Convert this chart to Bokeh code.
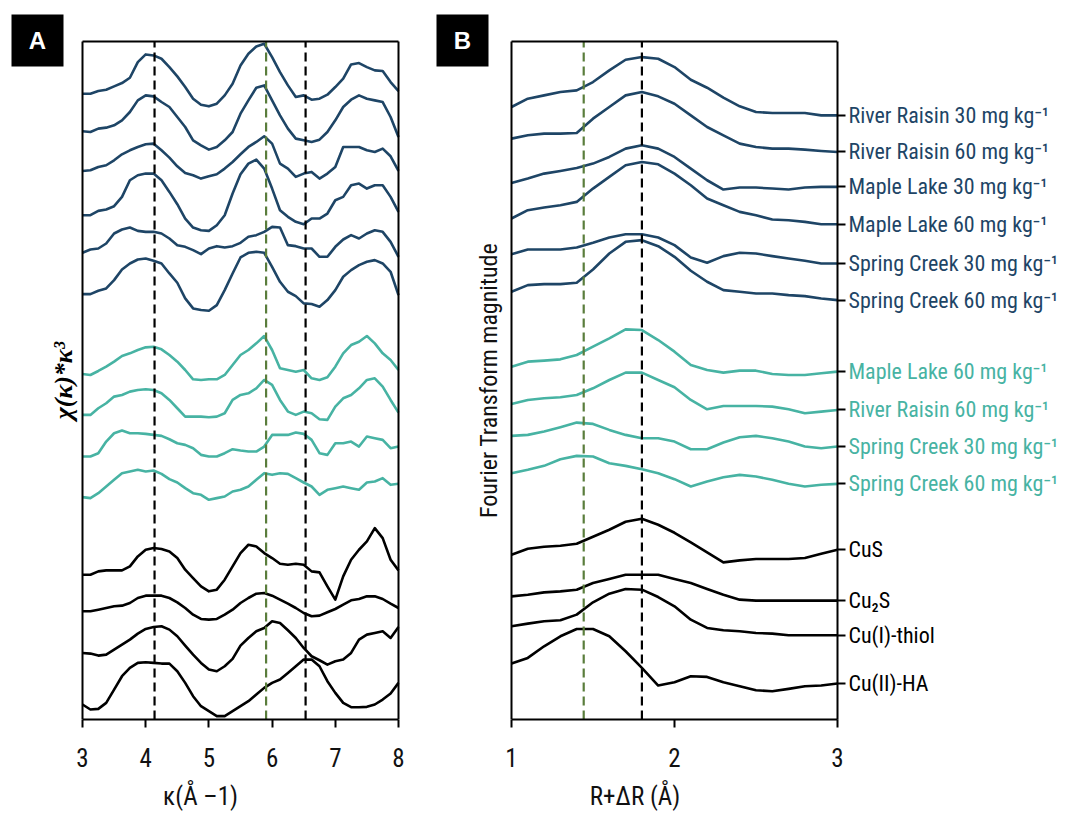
import math
from bokeh.plotting import figure
from bokeh.models import Range1d, ColumnDataSource, LinearAxis, FixedTicker, CustomJSTickFormatter
from bokeh.core.properties import value
from bokeh.layouts import row
from bokeh.embed import file_html
from bokeh.resources import INLINE

FONT = "Roboto Condensed"
DARK = "#1e4566"
TEAL = "#47b3a3"
GREEN = "#5a7d3c"

# ---------------- Panel A : k^3-weighted EXAFS (stacked, arbitrary units) ----------------
kappa = [3.0, 3.125, 3.25, 3.375, 3.5, 3.625, 3.75, 3.875, 4.0, 4.125, 4.25, 4.375, 4.5, 4.625,
         4.75, 4.875, 5.0, 5.125, 5.25, 5.375, 5.5, 5.625, 5.75, 5.875, 6.0, 6.125, 6.25, 6.375,
         6.5, 6.625, 6.75, 6.875, 7.0, 7.125, 7.25, 7.375, 7.5, 7.625, 7.75, 7.875, 8.0]

# readings: larger value = lower trace position (1 unit = 1/30 of a stack unit)
a_rr30 = [280, 280, 272, 268, 258, 248, 232, 185, 162, 165, 175, 200, 228, 260, 295, 313, 318, 310, 285, 250, 195,
          160, 138, 130, 170, 215, 255, 290, 285, 298, 295, 283, 260, 235, 192, 188, 200, 210, 212, 245, 272]
a_rr60 = [393, 395, 385, 382, 375, 360, 335, 300, 285, 288, 305, 320, 350, 380, 420, 435, 448, 440, 420, 395, 340,
          300, 262, 255, 300, 345, 385, 415, 420, 425, 418, 395, 360, 320, 298, 285, 295, 300, 305, 350, 410]
a_ml30 = [512, 510, 500, 495, 480, 462, 450, 440, 432, 430, 450, 472, 498, 518, 525, 535, 528, 522, 505, 485, 462,
          440, 425, 408, 430, 490, 505, 530, 520, 515, 535, 520, 500, 440, 440, 440, 450, 455, 445, 468, 512]
a_ml60 = [645, 645, 632, 628, 618, 590, 540, 525, 520, 520, 540, 575, 612, 655, 682, 690, 692, 675, 645, 580, 522,
          490, 478, 505, 565, 630, 650, 665, 672, 655, 655, 640, 600, 590, 555, 550, 565, 555, 555, 590, 635]
a_sc30 = [758, 748, 745, 730, 700, 688, 682, 692, 695, 695, 700, 715, 735, 740, 750, 762, 745, 738, 742, 738, 728,
          710, 705, 695, 680, 682, 735, 738, 745, 745, 770, 770, 740, 718, 705, 715, 700, 690, 695, 725, 770]
a_sc60 = [882, 882, 872, 865, 840, 808, 790, 778, 775, 782, 790, 820, 848, 895, 925, 930, 932, 915, 870, 820, 772,
          758, 755, 758, 800, 845, 875, 888, 910, 912, 920, 900, 870, 830, 810, 795, 785, 780, 790, 815, 885]
a_t_ml60 = [222, 225, 213, 200, 185, 168, 160, 150, 142, 140, 148, 165, 185, 210, 238, 240, 238, 238, 225, 195, 165,
            150, 130, 108, 150, 205, 210, 215, 210, 235, 240, 232, 200, 160, 135, 125, 108, 130, 160, 180, 210]
a_t_rr60 = [345, 345, 325, 310, 290, 285, 275, 270, 268, 270, 280, 300, 325, 350, 350, 350, 352, 350, 340, 300, 285,
            280, 265, 240, 255, 300, 335, 345, 335, 340, 358, 360, 320, 295, 285, 265, 240, 235, 260, 300, 338]
a_t_sc30 = [470, 470, 460, 425, 400, 392, 400, 400, 402, 405, 408, 418, 430, 435, 445, 465, 470, 470, 460, 448, 452,
            455, 455, 440, 405, 405, 405, 398, 402, 420, 460, 465, 430, 430, 425, 440, 410, 415, 420, 445, 440]
a_t_sc60 = [592, 595, 580, 560, 540, 520, 515, 510, 515, 512, 522, 538, 548, 565, 580, 585, 600, 595, 590, 575, 570,
            560, 540, 520, 525, 520, 522, 535, 548, 560, 585, 570, 565, 560, 565, 570, 548, 545, 535, 555, 552]
a_cus = [105, 105, 95, 92, 92, 92, 80, 50, 30, 25, 28, 35, 55, 90, 115, 140, 155, 150, 120, 80, 40,
         15, 20, 40, 55, 72, 75, 72, 75, 95, 98, 140, 180, 110, 60, 30, 5, -35, -5, 60, 92]
a_cu2s = [215, 215, 210, 205, 200, 198, 190, 175, 168, 168, 168, 175, 188, 205, 225, 238, 240, 238, 225, 210, 190,
          175, 162, 160, 168, 180, 192, 205, 220, 230, 228, 218, 208, 195, 182, 178, 170, 170, 178, 192, 205]
a_thiol = [340, 342, 348, 345, 330, 315, 300, 282, 268, 262, 260, 270, 290, 318, 345, 370, 390, 395, 380, 358, 318,
           295, 275, 265, 245, 250, 272, 295, 325, 350, 362, 375, 365, 360, 340, 300, 285, 280, 275, 295, 262]
a_ha = [495, 510, 508, 490, 450, 410, 385, 370, 368, 370, 372, 372, 395, 430, 470, 500, 515, 530, 530, 515, 500,
        485, 465, 445, 430, 420, 400, 380, 360, 360, 380, 425, 460, 490, 503, 503, 502, 495, 480, 462, 430]

# ---------------- Panel B : Fourier transform magnitude ----------------
rdist = [1.0, 1.1, 1.2, 1.3, 1.4, 1.5, 1.6, 1.7, 1.8, 1.9, 2.0, 2.1, 2.2, 2.3, 2.4, 2.5, 2.6, 2.7, 2.8, 2.9, 3.0]

b_rr30 = [320, 295, 285, 275, 270, 245, 210, 178, 170, 175, 200, 238, 262, 292, 318, 335, 338, 338, 338, 345, 345]
b_rr60 = [415, 405, 400, 400, 398, 355, 320, 285, 275, 288, 310, 345, 380, 405, 430, 440, 445, 445, 448, 452, 455]
b_ml30 = [548, 535, 520, 512, 503, 490, 470, 445, 435, 445, 470, 505, 540, 568, 562, 562, 565, 568, 562, 560, 560]
b_ml60 = [655, 630, 622, 615, 605, 565, 530, 495, 485, 492, 520, 555, 595, 615, 635, 645, 658, 660, 665, 672, 672]
b_sc30 = [762, 748, 748, 748, 742, 728, 712, 702, 702, 712, 735, 772, 788, 768, 758, 760, 768, 775, 782, 790, 790]
b_sc60 = [875, 855, 852, 852, 848, 808, 760, 725, 720, 738, 770, 812, 845, 870, 875, 880, 880, 885, 888, 895, 900]
b_t_ml60 = [200, 185, 182, 178, 165, 140, 115, 88, 90, 120, 155, 195, 210, 218, 212, 212, 222, 225, 225, 220, 215]
b_t_rr60 = [312, 300, 295, 292, 285, 265, 240, 218, 218, 240, 262, 300, 328, 318, 318, 318, 320, 328, 340, 335, 330]
b_t_sc30 = [408, 405, 395, 382, 368, 372, 390, 405, 415, 415, 425, 448, 448, 428, 412, 408, 415, 425, 440, 445, 440]
b_t_sc60 = [520, 510, 498, 478, 468, 470, 490, 498, 508, 520, 538, 560, 545, 532, 525, 530, 540, 552, 560, 555, 552]
b_cus = [45, 27, 21, 18, 12, -9, -30, -54, -63, -45, -21, 8, 38, 68, 62, 58, 58, 58, 55, 42, 30]
b_cu2s = [170, 165, 158, 155, 150, 130, 118, 105, 105, 105, 118, 130, 148, 165, 180, 183, 183, 183, 183, 183, 183]
b_thiol = [260, 252, 245, 242, 225, 188, 162, 148, 150, 172, 200, 240, 265, 272, 275, 280, 282, 287, 287, 287, 287]
b_ha = [372, 355, 320, 290, 268, 268, 290, 335, 385, 438, 428, 410, 412, 428, 440, 452, 455, 448, 440, 438, 432]

labels = ["River Raisin 30 mg kg\u207b\u00b9", "River Raisin 60 mg kg\u207b\u00b9",
          "Maple Lake 30 mg kg\u207b\u00b9", "Maple Lake 60 mg kg\u207b\u00b9",
          "Spring Creek 30 mg kg\u207b\u00b9", "Spring Creek 60 mg kg\u207b\u00b9",
          "Maple Lake 60 mg kg\u207b\u00b9", "River Raisin 60 mg kg\u207b\u00b9",
          "Spring Creek 30 mg kg\u207b\u00b9", "Spring Creek 60 mg kg\u207b\u00b9",
          "CuS", "Cu\u2082S", "Cu(I)-thiol", "Cu(II)-HA"]
groups = ["dark"] * 6 + ["teal"] * 4 + ["black"] * 4
group_color = {"dark": DARK, "teal": TEAL, "black": "black"}
group_offset = {"dark": 72.0, "teal": 42.0, "black": 18.0}   # stacking offsets
SCALE = 30.0

curves_A = [a_rr30, a_rr60, a_ml30, a_ml60, a_sc30, a_sc60, a_t_ml60, a_t_rr60, a_t_sc30, a_t_sc60,
            a_cus, a_cu2s, a_thiol, a_ha]
curves_B = [b_rr30, b_rr60, b_ml30, b_ml60, b_sc30, b_sc60, b_t_ml60, b_t_rr60, b_t_sc30, b_t_sc60,
            b_cus, b_cu2s, b_thiol, b_ha]

dashes_A = [(4.14, "black"), (5.905, GREEN), (6.53, "black")]
dashes_B = [(1.443, GREEN), (1.8, "black")]

# plotted box (axis limits) and the extra room kept for the panel letter / y label
YLO, YHI = 0.0, 67.9
A_LO, A_HI = 3.0, 8.0
B_LO, B_HI = 1.0, 3.0
H = 813
BOT = 93


def stacked(vals, grp):
    return [group_offset[grp] - v / SCALE for v in vals]


def make_panel(width, right, xr, ticks, lo, hi, xlabel):
    p = figure(width=width, height=H, x_range=xr, y_range=Range1d(YLO, 72.0), output_backend="svg",
               toolbar_location=None, y_axis_location=None,
               min_border_left=0, min_border_right=right, min_border_top=0, min_border_bottom=BOT)
    p.grid.visible = False
    p.outline_line_color = None
    ax = p.xaxis[0]
    ax.bounds = (lo, hi)
    ax.ticker = FixedTicker(ticks=ticks)
    ax.major_tick_out = 8
    ax.major_tick_in = 0
    ax.minor_tick_out = 0
    ax.minor_tick_in = 0
    ax.axis_line_width = 2
    ax.major_tick_line_width = 2
    ax.major_label_text_font = FONT
    ax.major_label_text_font_size = "25px"
    ax.major_label_text_color = "#111111"
    ax.major_label_standoff = 20
    ax.axis_label = xlabel
    ax.axis_label_text_font = FONT
    ax.axis_label_text_font_size = "25px"
    ax.axis_label_text_font_style = "normal"
    ax.axis_label_text_color = "#111111"
    ax.axis_label_standoff = 12
    return p


def frame_lines(p, lo, hi, with_right):
    xs = [[lo, lo], [lo, hi]]
    ys = [[YLO, YHI], [YHI, YHI]]
    if with_right:
        xs.append([hi, hi])
        ys.append([YLO, YHI])
    p.multi_line(xs, ys, line_color="black", line_width=2)


def dashes(p, spec):
    p.multi_line([[loc, loc] for loc, _ in spec], [[YLO, YHI] for _ in spec],
                 line_color=[c for _, c in spec], line_width=2.2, line_dash="9 5")


def letter(p, x, txt):
    p.rect(x=[x], y=[68.0], width=52, height=52, width_units="screen", height_units="screen",
           fill_color="black", line_color=None)
    p.text(x=[x], y=[68.0], text=[txt], text_color="white", text_font=value("Liberation Sans"),
           text_font_style="bold", text_font_size="24px", text_align="center", text_baseline="middle")


# ---- panel A
pA = make_panel(432, 32, Range1d(1.70253, 8.03165), [3, 4, 5, 6, 7, 8], A_LO, A_HI,
                "\u03ba(\u00c5 \u20131)")
for vals, grp in zip(curves_A, groups):
    pA.line(kappa, stacked(vals, grp), line_color=group_color[grp], line_width=2.6, line_join="round")
dashes(pA, dashes_A)
frame_lines(pA, A_LO, A_HI, True)
letter(pA, 2.288, "A")
pA.text(x=[2.699], y=[(YLO + YHI) / 2], text=["\u03c7(\u03ba)*\u03ba\u00b3"], angle=math.pi / 2,
        text_font=value("Liberation Serif"), text_font_style="bold italic", text_font_size="26px",
        text_align="center", text_baseline="middle", text_color="black")

# ---- panel B
pB = make_panel(415, 10, Range1d(0.51534, 3.0), [1, 2, 3], B_LO, B_HI, "R+\u0394R (\u00c5)")
ends = []
for vals, grp in zip(curves_B, groups):
    ys = stacked(vals, grp)
    ends.append(ys[-1])
    pB.line(rdist, ys, line_color=group_color[grp], line_width=2.6, line_join="round")
dashes(pB, dashes_B)
frame_lines(pB, B_LO, B_HI, False)
letter(pB, 0.6994, "B")
pB.text(x=[0.865], y=[(YLO + YHI) / 2], text=["Fourier Transform magnitude"], angle=math.pi / 2,
        text_font=value(FONT), text_font_size="24px",
        text_align="center", text_baseline="middle", text_color="#111111")
rax = LinearAxis(ticker=FixedTicker(ticks=ends), bounds=(YLO, YHI), major_tick_out=8, major_tick_in=0,
                 minor_tick_out=0, minor_tick_in=0, axis_line_width=2, major_tick_line_width=2,
                 major_label_standoff=0, formatter=CustomJSTickFormatter(code="return ''"))
pB.add_layout(rax, "right")

# ---- strip with the sample labels, right of panel B
sC = figure(width=223, height=H, x_range=Range1d(0, 223), y_range=pB.y_range, output_backend="svg",
            toolbar_location=None, x_axis_location=None, y_axis_location=None,
            min_border_left=0, min_border_right=0, min_border_top=0, min_border_bottom=BOT)
sC.grid.visible = False
sC.outline_line_color = None
sC.text(x=[1] * len(labels), y=ends, text=labels, text_color=[group_color[g] for g in groups],
        text_font=value(FONT), text_font_size="22px", text_baseline="middle", text_align="left")

layout = row(pA, pB, sC)
open("out.html", "w").write(file_html(layout, INLINE))
